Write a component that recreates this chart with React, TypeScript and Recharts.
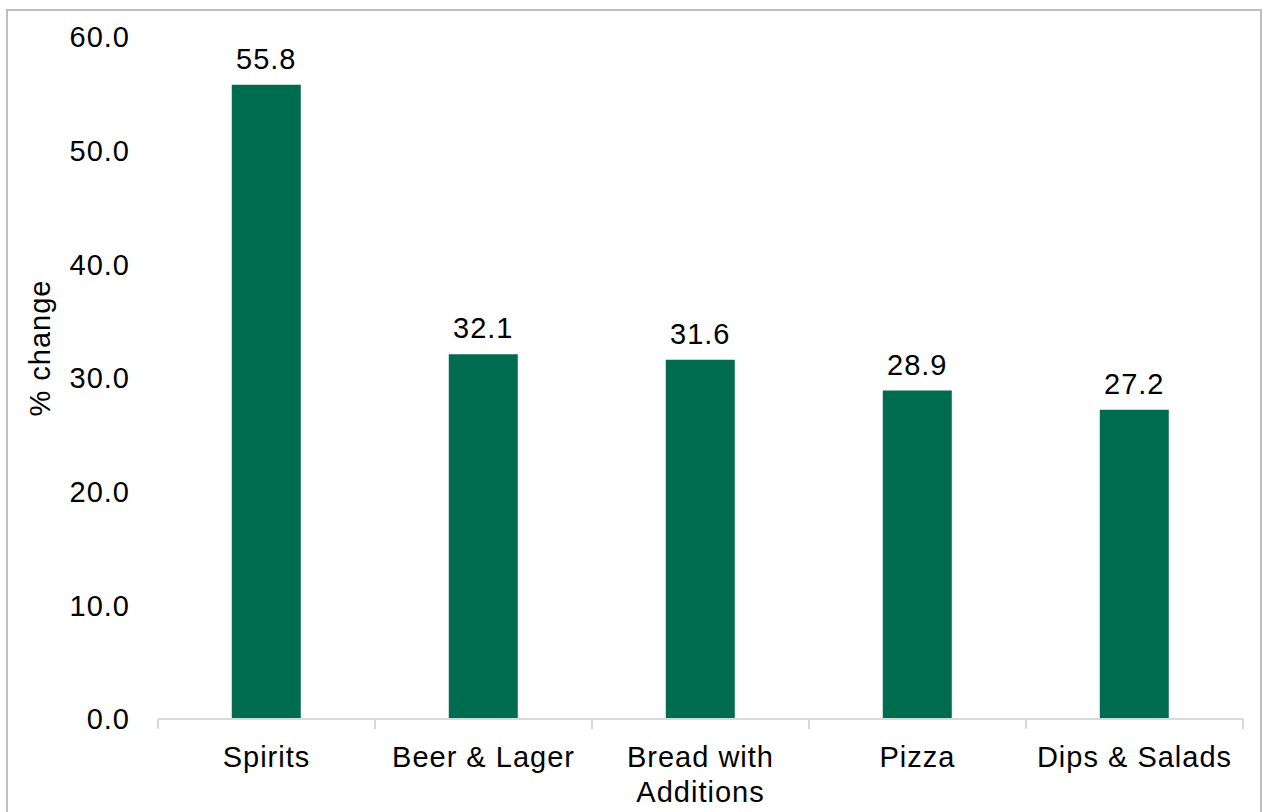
import { BarChart, Bar, XAxis, YAxis, LabelList } from "recharts";

const categories = ["Spirits", "Beer & Lager", "Bread with Additions", "Pizza", "Dips & Salads"];
const changes = [55.8, 32.1, 31.6, 28.9, 27.2];
const yTicks = [0, 10, 20, 30, 40, 50, 60];

const W = 1263;
const H = 812;
const M = { top: 37, right: 20, bottom: 0, left: 0 };
const X_AXIS_H = 93;
const Y_AXIS_W = 158;
const FONT = "Arial, 'Liberation Sans', sans-serif";
const GREEN = "#006C4F";
const AXIS = "#D9D9D9";
const TEXT_STYLE = { fontSize: 29, fontFamily: FONT, fill: "#000", letterSpacing: 1 };

const data = categories.map((name, i) => ({ name, value: changes[i] }));
const halfBand = (W - M.left - M.right - Y_AXIS_W) / categories.length / 2;

// greedy word wrap, max ~13 chars per line
function wrap(label: string, max = 13) {
  const lines: string[] = [];
  let cur = "";
  label.split(" ").forEach((w) => {
    const next = cur ? cur + " " + w : w;
    if (next.length > max && cur) {
      lines.push(cur);
      cur = w;
    } else {
      cur = next;
    }
  });
  if (cur) lines.push(cur);
  return lines;
}

function CategoryTick(props: any) {
  const { x, y, payload, index } = props;
  const lines = wrap(String(payload.value));
  return (
    <g>
      <line x1={x - halfBand} y1={y} x2={x - halfBand} y2={y + 10} stroke={AXIS} strokeWidth={2} />
      {index === categories.length - 1 && (
        <line x1={x + halfBand} y1={y} x2={x + halfBand} y2={y + 10} stroke={AXIS} strokeWidth={2} />
      )}
      <text x={x} y={y + 48} textAnchor="middle" style={TEXT_STYLE}>
        {lines.map((l, i) => (
          <tspan key={i} x={x} dy={i === 0 ? 0 : 35}>
            {l}
          </tspan>
        ))}
      </text>
    </g>
  );
}

export default function App() {
  return (
    <div style={{ position: "absolute", left: 0, top: 0, width: W, height: H, background: "#fff", overflow: "hidden" }}>
      <div
        style={{
          position: "absolute",
          left: 6,
          top: 9,
          width: W - 7,
          height: H,
          border: "2px solid #BFBFBF",
          boxSizing: "border-box",
        }}
      />
      <div style={{ position: "absolute", left: 0, top: 0 }}>
        <BarChart width={W} height={H} data={data} margin={M} barCategoryGap="34%">
          <XAxis
            dataKey="name"
            axisLine={{ stroke: AXIS, strokeWidth: 2 }}
            tickLine={false}
            tickSize={0}
            tickMargin={0}
            interval={0}
            height={X_AXIS_H}
            tick={<CategoryTick />}
          />
          <YAxis
            width={Y_AXIS_W}
            domain={[0, 60]}
            ticks={yTicks}
            interval={0}
            axisLine={false}
            tickLine={false}
            tickSize={0}
            tickMargin={28}
            tickFormatter={(v: number) => v.toFixed(1)}
            tick={TEXT_STYLE}
            label={{
              content: () => (
                <text
                  x={40}
                  y={348}
                  transform="rotate(-90 40 348)"
                  textAnchor="middle"
                  dominantBaseline="central"
                  style={TEXT_STYLE}
                >
                  % change
                </text>
              ),
            }}
          />
          <Bar dataKey="value" fill={GREEN} isAnimationActive={false}>
            <LabelList
              dataKey="value"
              position="top"
              offset={16}
              formatter={(v: any) => Number(v).toFixed(1)}
              style={TEXT_STYLE}
            />
          </Bar>
        </BarChart>
      </div>
    </div>
  );
}
